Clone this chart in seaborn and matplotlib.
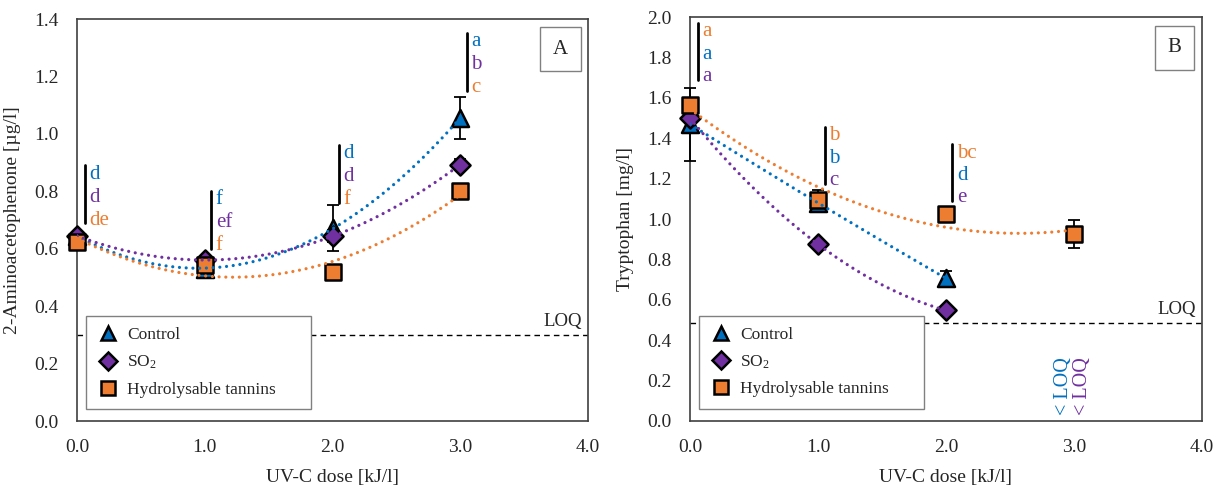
import numpy as np
import pandas as pd
import matplotlib
matplotlib.use('Agg')
import matplotlib.pyplot as plt
from matplotlib.lines import Line2D
import seaborn as sns

# colours (Excel-like)
BLUE = '#0070C0'
PURPLE = '#7030A0'
ORANGE = '#ED7D31'

# Panel A: 2-Aminoacetophenone
dose_a = [0.0, 1.0, 2.0, 3.0]
a_control = [0.645, 0.53, 0.672, 1.055]
a_control_err = [0.01, 0.03, 0.08, 0.072]
a_so2 = [0.645, 0.56, 0.644, 0.893]
a_so2_err = [0.01, 0.01, 0.02, 0.02]
a_ht = [0.624, 0.543, 0.518, 0.80]
a_ht_err = [0.01, 0.01, 0.015, 0.025]
loq_a = 0.3

# Panel B: Tryptophan
dose_b = [0.0, 1.0, 2.0]
dose_b_ht = [0.0, 1.0, 2.0, 3.0]
b_control = [1.47, 1.08, 0.706]
b_control_err = [0.18, 0.03, 0.035]
b_so2 = [1.50, 0.875, 0.547]
b_so2_err = [0.01, 0.01, 0.01]
b_ht = [1.567, 1.095, 1.023, 0.925]
b_ht_err = [0.02, 0.05, 0.02, 0.07]
loq_b = 0.485

# significance letters
letters_a = [['d', 'd', 'de'], ['f', 'ef', 'f'], ['d', 'd', 'f'], ['a', 'b', 'c']]
letter_colors_a = [BLUE, PURPLE, ORANGE]
bar_x_a = [0.06, 1.05, 2.05, 3.05]
bar_top_a = [0.89, 0.80, 0.96, 1.35]

letters_b = [['a', 'a', 'a'], ['b', 'b', 'c'], ['bc', 'd', 'e']]
letter_colors_b = [ORANGE, BLUE, PURPLE]
bar_x_b = [0.06, 1.055, 2.05]
bar_top_b = [1.97, 1.455, 1.37]

treatments = ['Control', 'SO$_2$', 'Hydrolysable tannins']
markers = {'Control': '^', 'SO$_2$': 'D', 'Hydrolysable tannins': 's'}
palette = {'Control': BLUE, 'SO$_2$': PURPLE, 'Hydrolysable tannins': ORANGE}
sizes = {'Control': 150, 'SO$_2$': 105, 'Hydrolysable tannins': 140}

sns.set_theme(style='white')
plt.rcParams['font.family'] = ['Liberation Serif', 'DejaVu Serif']
plt.rcParams['mathtext.fontset'] = 'custom'
plt.rcParams['mathtext.rm'] = 'Liberation Serif'
plt.rcParams['mathtext.it'] = 'Liberation Serif:italic'


def draw_panel(ax, series, loq, letters, letter_colors, bar_x, bar_top,
               bar_h, step, ylim, yticks, ylabel, tag):
    # long-form table for seaborn
    rows = []
    for name, x, y, e in series:
        for xi, yi, ei in zip(x, y, e):
            rows.append({'dose': xi, 'value': yi, 'err': ei, 'treatment': name})
    df = pd.DataFrame(rows)

    # error bars
    for name, x, y, e in series:
        ax.errorbar(x, y, yerr=e, fmt='none', ecolor='black', elinewidth=1.3,
                    capsize=4.5, capthick=1.3, zorder=3, clip_on=False)

    # markers
    for name in treatments:
        sub = df[df['treatment'] == name]
        sns.scatterplot(data=sub, x='dose', y='value', marker=markers[name],
                        color=palette[name], s=sizes[name], edgecolor='black',
                        linewidth=1.8, ax=ax, zorder=4, clip_on=False, legend=False)

    # 2nd order polynomial trend lines (round dots)
    for name, x, y, e in series:
        coef = np.polyfit(x, y, 2)
        xs = np.linspace(min(x), max(x), 200)
        ax.plot(xs, np.polyval(coef, xs), color=palette[name], lw=2.3,
                linestyle=(0, (0.01, 2.1)), dash_capstyle='round', zorder=5)

    # LOQ
    ax.axhline(loq, color='black', lw=1, linestyle=(0, (4, 3)), zorder=1)
    ax.text(3.95, loq + 0.012 * (ylim[1] - ylim[0]), 'LOQ', ha='right', va='bottom', fontsize=13.5)

    # letters
    for i, labs in enumerate(letters):
        ax.plot([bar_x[i], bar_x[i]], [bar_top[i] - bar_h, bar_top[i]], color='black', lw=2, zorder=2)
        for j, lab in enumerate(labs):
            ax.text(bar_x[i] + 0.035, bar_top[i] - 0.03 * (ylim[1] - ylim[0]) / 1.4 - j * step, lab,
                    color=letter_colors[j], fontsize=15, ha='left', va='center')

    ax.set_xlim(0, 4)
    ax.set_ylim(*ylim)
    ax.set_xticks([0, 1, 2, 3, 4])
    ax.set_xticklabels(['%.1f' % t for t in [0, 1, 2, 3, 4]])
    ax.set_yticks(yticks)
    ax.set_yticklabels(['%.1f' % t for t in yticks])
    ax.tick_params(length=0, labelsize=14, pad=13)
    ax.set_xlabel('UV-C dose [kJ/l]', fontsize=14)
    ax.set_ylabel(ylabel, fontsize=14)
    ax.xaxis.set_label_coords(0.5, -0.12)
    ax.yaxis.set_label_coords(-0.11, 0.5)
    for sp in ax.spines.values():
        sp.set_color('#404040')
        sp.set_linewidth(1.2)

    ax.text(0.946, 0.925, tag, transform=ax.transAxes, fontsize=15, ha='center', va='center',
            bbox=dict(boxstyle='square,pad=0.6', facecolor='white', edgecolor='#808080', lw=1))

    handles = [Line2D([], [], linestyle='none', marker=markers[n], markersize=np.sqrt(sizes[n]) * 0.85,
                      markerfacecolor=palette[n], markeredgecolor='black', markeredgewidth=1.8)
               for n in treatments]
    leg = ax.legend(handles, treatments, loc='lower left', bbox_to_anchor=(0.018, 0.03, 0.44, 0.2),
                    mode='expand', borderaxespad=0, frameon=True, fancybox=False, fontsize=12.5,
                    labelspacing=0.6, handletextpad=0.5, borderpad=0.65, handlelength=1.2)
    leg.get_frame().set_edgecolor('#808080')
    leg.get_frame().set_linewidth(1)
    leg.get_frame().set_alpha(1)
    leg.set_zorder(6)
    return leg


fig = plt.figure(figsize=(12.21, 4.9), dpi=100)
ax_a = fig.add_axes([0.0631, 0.1408, 0.4185, 0.8204])
ax_b = fig.add_axes([0.5651, 0.1414, 0.4193, 0.8233])

series_a = [('Control', dose_a, a_control, a_control_err),
            ('SO$_2$', dose_a, a_so2, a_so2_err),
            ('Hydrolysable tannins', dose_a, a_ht, a_ht_err)]
draw_panel(ax_a, series_a, loq_a, letters_a, letter_colors_a, bar_x_a, bar_top_a,
           0.2, 0.08, (0, 1.4), np.arange(0, 1.41, 0.2), '2-Aminoacetophenone [µg/l]', 'A')

series_b = [('Control', dose_b, b_control, b_control_err),
            ('SO$_2$', dose_b, b_so2, b_so2_err),
            ('Hydrolysable tannins', dose_b_ht, b_ht, b_ht_err)]
draw_panel(ax_b, series_b, loq_b, letters_b, letter_colors_b, bar_x_b, bar_top_b,
           0.28, 0.11, (0, 2.0), np.arange(0, 2.01, 0.2), 'Tryptophan [mg/l]', 'B')

# below LOQ notes at 3.0 kJ/l
ax_b.text(2.92, 0.03, '< LOQ', rotation=90, color=BLUE, fontsize=14.5, ha='center', va='bottom')
ax_b.text(3.07, 0.03, '< LOQ', rotation=90, color=PURPLE, fontsize=14.5, ha='center', va='bottom')

fig.savefig('out.png', dpi=100)
